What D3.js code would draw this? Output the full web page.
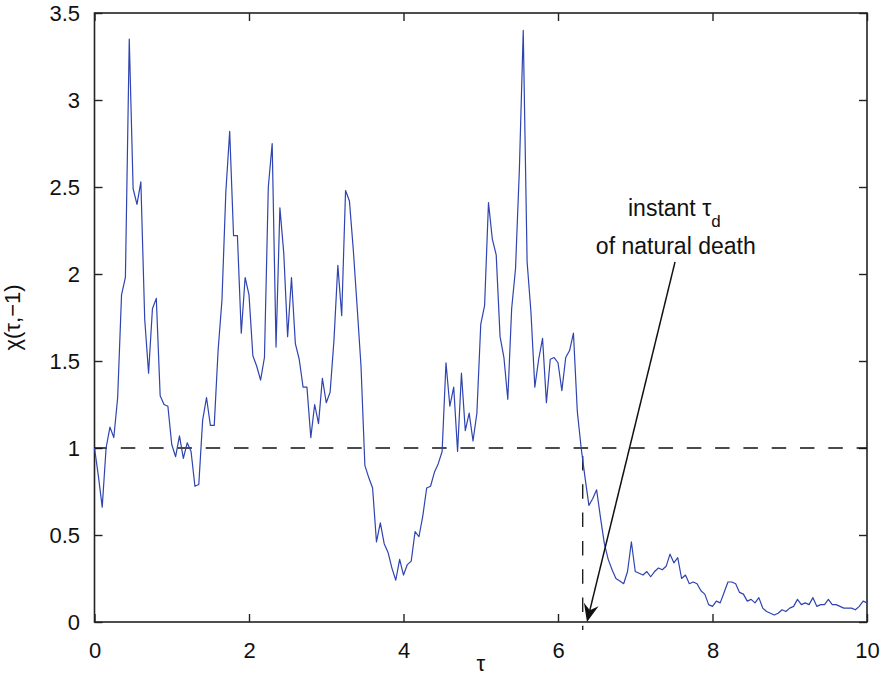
<!DOCTYPE html>
<html>
<head>
<meta charset="utf-8">
<script src="https://cdn.jsdelivr.net/npm/d3@7"></script>
<style>
body { margin: 0; background: #fff; }
svg { font-family: "Liberation Sans", Arial, Helvetica, sans-serif; }
</style>
</head>
<body>
<script>
// sample spacing of the curve along tau
var tauStep = 0.05;

// chi(tau,-1), every 0.05
var chi = [
	1.00, 0.84, 0.66, 1.00, 1.12, 1.06, 1.29, 1.88, 1.98, 3.35,
	2.49, 2.40, 2.53, 1.74, 1.43, 1.80, 1.86, 1.30, 1.25, 1.24,
	1.02, 0.95, 1.07, 0.94, 1.03, 0.98, 0.78, 0.79, 1.16, 1.29,
	1.13, 1.13, 1.56, 1.85, 2.47, 2.82, 2.22, 2.22, 1.66, 1.98,
	1.88, 1.53, 1.47, 1.39, 1.52, 2.50, 2.75, 1.58, 2.38, 2.12,
	1.64, 1.98, 1.60, 1.51, 1.35, 1.35, 1.06, 1.25, 1.14, 1.40,
	1.26, 1.32, 1.62, 2.05, 1.76, 2.48, 2.42, 2.14, 1.81, 1.47,
	0.90, 0.83, 0.77, 0.46, 0.57, 0.45, 0.40, 0.31, 0.24, 0.36,
	0.27, 0.33, 0.35, 0.52, 0.49, 0.61, 0.77, 0.78, 0.86, 0.91,
	0.98, 1.49, 1.24, 1.35, 0.98, 1.43, 1.10, 1.20, 1.04, 1.20,
	1.71, 1.82, 2.41, 2.20, 2.11, 1.64, 1.52, 1.28, 1.80, 2.03,
	2.60, 3.40, 2.07, 1.78, 1.35, 1.51, 1.63, 1.26, 1.51, 1.52,
	1.49, 1.33, 1.52, 1.56, 1.66, 1.21, 1.00, 0.83, 0.67, 0.71,
	0.76, 0.60, 0.45, 0.36, 0.30, 0.25, 0.235, 0.22, 0.29, 0.46,
	0.29, 0.28, 0.27, 0.29, 0.26, 0.29, 0.31, 0.30, 0.32, 0.39,
	0.34, 0.37, 0.25, 0.27, 0.22, 0.23, 0.22, 0.18, 0.16, 0.10,
	0.09, 0.12, 0.11, 0.17, 0.23, 0.23, 0.22, 0.17, 0.16, 0.12,
	0.13, 0.11, 0.14, 0.08, 0.06, 0.05, 0.04, 0.05, 0.07, 0.06,
	0.08, 0.09, 0.13, 0.10, 0.11, 0.10, 0.14, 0.09, 0.10, 0.10,
	0.13, 0.10, 0.10, 0.09, 0.08, 0.08, 0.08, 0.07, 0.09, 0.12,
	0.11
];

var xTicks = [0, 2, 4, 6, 8, 10];
var yTicks = [0, 0.5, 1, 1.5, 2, 2.5, 3, 3.5];

// reference level and instant of natural death
var level = 1;
var tauDeath = 6.32;

// annotation: text lines [tau, chi] and arrow from -> to
var noteLine1 = [6.906, 2.333];
var noteLine2 = [6.49, 2.115];
var arrowFrom = [7.515, 2.07];
var arrowTo = [6.375, 0];

var width = 880,
	height = 684;

var svg = d3.select("body")
	.append("svg")
	.attr("width", width)
	.attr("height", height);

var x = d3.scaleLinear().domain([0, 10]).range([94.5, 867]);
var y = d3.scaleLinear().domain([0, 3.5]).range([622, 13]);

var fontSize = 22;

//axes, ticks pointing inward on every side
var axB = svg.append("g")
	.attr("transform", "translate(0," + y(0) + ")")
	.call(d3.axisBottom(x).tickValues(xTicks).tickSizeInner(-8).tickSizeOuter(0).tickPadding(20));
var axL = svg.append("g")
	.attr("transform", "translate(" + x(0) + ",0)")
	.call(d3.axisLeft(y).tickValues(yTicks).tickSizeInner(-8).tickSizeOuter(0).tickPadding(14.5)
		.tickFormat(function(d){ return String(d); }));
var axT = svg.append("g")
	.attr("transform", "translate(0," + y(3.5) + ")")
	.call(d3.axisTop(x).tickValues(xTicks).tickSizeInner(-8).tickSizeOuter(0).tickFormat(""));
var axR = svg.append("g")
	.attr("transform", "translate(" + x(10) + ",0)")
	.call(d3.axisRight(y).tickValues(yTicks).tickSizeInner(-8).tickSizeOuter(0).tickFormat(""));

[axB, axL, axT, axR].forEach(function(g){
	g.select(".domain").remove();
	g.selectAll(".tick line").attr("stroke", "#222").attr("stroke-width", 1.4);
	g.selectAll(".tick text")
		.attr("font-family", "Liberation Sans, Arial, sans-serif")
		.attr("font-size", fontSize)
		.attr("fill", "#111");
});

//frame
svg.append("rect")
	.attr("x", x(0))
	.attr("y", y(3.5))
	.attr("width", x(10) - x(0))
	.attr("height", y(0) - y(3.5))
	.attr("fill", "none")
	.attr("stroke", "#222")
	.attr("stroke-width", 1.6);

//dashed level line
svg.append("line")
	.attr("x1", x(0)).attr("x2", x(10))
	.attr("y1", y(level)).attr("y2", y(level))
	.attr("stroke", "#111")
	.attr("stroke-width", 1.3)
	.attr("stroke-dasharray", "14.5,13.8")
	.attr("stroke-dashoffset", 2);

//dashed drop line at tau_d
svg.append("line")
	.attr("x1", x(tauDeath)).attr("x2", x(tauDeath))
	.attr("y1", y(level)).attr("y2", y(0) + 8)
	.attr("stroke", "#111")
	.attr("stroke-width", 1.3)
	.attr("stroke-dasharray", "14.5,13.8")
	.attr("stroke-dashoffset", -8);

//curve
var line = d3.line()
	.x(function(d, i){ return x(i * tauStep); })
	.y(function(d){ return y(d); });

svg.append("path")
	.datum(chi)
	.attr("fill", "none")
	.attr("stroke", "#2f44b0")
	.attr("stroke-width", 1.2)
	.attr("stroke-linejoin", "round")
	.attr("d", line);

//annotation arrow
var p0 = [x(arrowFrom[0]), y(arrowFrom[1])],
	p1 = [x(arrowTo[0]), y(arrowTo[1])];
var dx = p1[0] - p0[0], dy = p1[1] - p0[1],
	len = Math.sqrt(dx * dx + dy * dy),
	ux = dx / len, uy = dy / len,
	nx = -uy, ny = ux;
var headLen = 18, headW = 7.5, notch = 12;
var back = [p1[0] - headLen * ux, p1[1] - headLen * uy],
	mid = [p1[0] - notch * ux, p1[1] - notch * uy];

svg.append("line")
	.attr("x1", p0[0]).attr("y1", p0[1])
	.attr("x2", mid[0]).attr("y2", mid[1])
	.attr("stroke", "#111")
	.attr("stroke-width", 1.5);

svg.append("path")
	.attr("d", "M" + p1 + "L" + [back[0] + headW * nx, back[1] + headW * ny] +
		"L" + mid + "L" + [back[0] - headW * nx, back[1] - headW * ny] + "Z")
	.attr("fill", "#111");

//annotation text
var t1 = svg.append("text")
	.attr("x", x(noteLine1[0]))
	.attr("y", y(noteLine1[1]))
	.attr("font-size", 23)
	.attr("fill", "#111")
	.text("instant τ");
t1.append("tspan")
	.attr("dy", 11)
	.attr("font-size", 17)
	.text("d");

svg.append("text")
	.attr("x", x(noteLine2[0]))
	.attr("y", y(noteLine2[1]))
	.attr("font-size", 23)
	.attr("fill", "#111")
	.text("of natural death");

//axis labels
svg.append("text")
	.attr("x", (x(0) + x(10)) / 2)
	.attr("y", 671)
	.attr("text-anchor", "middle")
	.attr("font-size", 22)
	.attr("fill", "#111")
	.text("τ");

svg.append("text")
	.attr("transform", "translate(20," + y(1.75) + ") rotate(-90)")
	.attr("text-anchor", "middle")
	.attr("font-size", 22)
	.attr("fill", "#111")
	.text("χ(τ,−1)");
</script>
</body>
</html>
